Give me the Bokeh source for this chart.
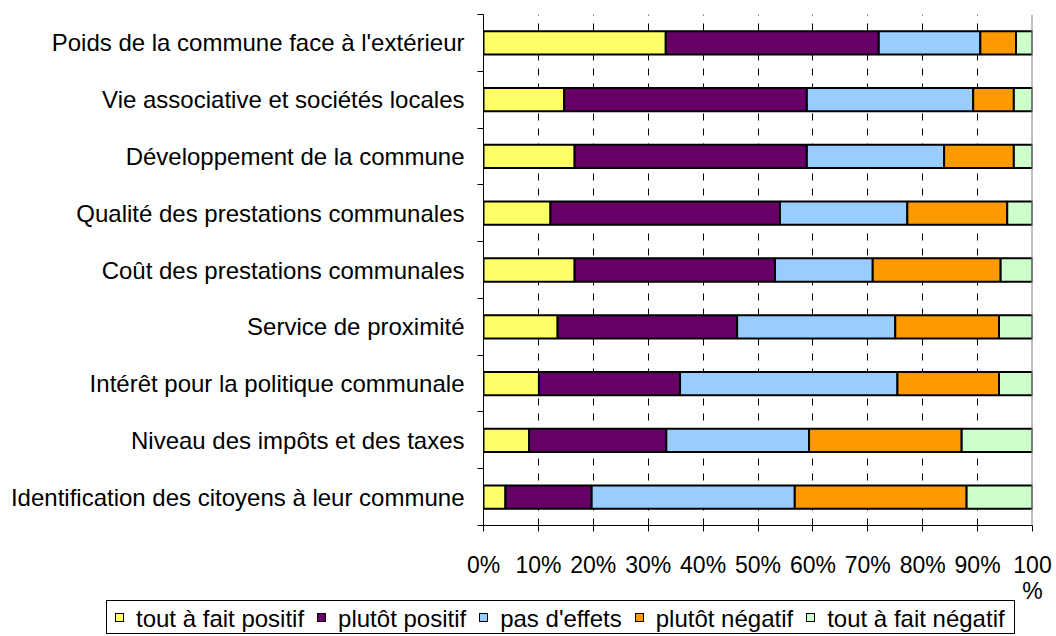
from bokeh.plotting import figure
from bokeh.layouts import column
from bokeh.models import Range1d, FixedTicker, Span, ColumnDataSource, Div
from bokeh.embed import file_html
from bokeh.resources import INLINE

# Categories, top to bottom as displayed
categories = [
    "Poids de la commune face à l'extérieur",
    "Vie associative et sociétés locales",
    "Développement de la commune",
    "Qualité des prestations communales",
    "Coût des prestations communales",
    "Service de proximité",
    "Intérêt pour la politique communale",
    "Niveau des impôts et des taxes",
    "Identification des citoyens à leur commune",
]

series_names = ["tout à fait positif", "plutôt positif", "pas d'effets",
                "plutôt négatif", "tout à fait négatif"]

tout_a_fait_positif = [33.2, 14.7, 16.6, 12.2, 16.6, 13.5, 10.1, 8.3, 4.0]
plutot_positif = [38.8, 44.2, 42.3, 41.8, 36.5, 32.7, 25.7, 25.0, 15.7]
pas_d_effets = [18.5, 30.3, 25.0, 23.2, 17.8, 28.8, 39.6, 26.0, 37.0]
plutot_negatif = [6.5, 7.4, 12.7, 18.2, 23.3, 18.9, 18.5, 27.8, 31.3]
tout_a_fait_negatif = [3.0, 3.4, 3.4, 4.6, 5.8, 6.1, 6.1, 12.9, 12.0]

colors = ["#FFFF66", "#660066", "#99CCFF", "#FF9900", "#CCFFCC"]

x_ticks = [0, 10, 20, 30, 40, 50, 60, 70, 80, 90, 100]
x_tick_labels = ["0%", "10%", "20%", "30%", "40%", "50%", "60%", "70%",
                 "80%", "90%", "100\n%"]

FONT = "Liberation Sans"

n = len(categories)
ypos = [n - 1 - i + 0.5 for i in range(n)]
keys = ["s0", "s1", "s2", "s3", "s4"]
series = [tout_a_fait_positif, plutot_positif, pas_d_effets, plutot_negatif, tout_a_fait_negatif]
data = {"y": ypos}
for k, s in zip(keys, series):
    data[k] = s
source = ColumnDataSource(data)

p = figure(width=1056, height=606, x_range=Range1d(0, 100), y_range=Range1d(0, n),
           output_backend="svg", toolbar_location=None,
           min_border_left=483, min_border_right=24, min_border_top=14, min_border_bottom=80)
p.outline_line_color = None
p.background_fill_color = "white"
p.border_fill_color = "white"

renderers = p.hbar_stack(keys, y="y", height=0.41, fill_color=colors,
                         line_color="black", line_width=2, source=source)

# x axis
p.xaxis.ticker = FixedTicker(ticks=x_ticks)
p.xaxis.major_label_overrides = {t: l for t, l in zip(x_ticks, x_tick_labels)}
p.xaxis.major_label_text_font = FONT
p.xaxis.major_label_text_font_size = "23px"
p.xaxis.major_label_text_color = "black"
p.xaxis.major_label_text_line_height = 1.0
p.xaxis.major_tick_in = 0
p.xaxis.major_tick_out = 6
p.xaxis.minor_tick_line_color = None
p.xaxis.major_label_standoff = 20
p.xaxis.axis_line_color = "black"
p.xaxis.major_tick_line_color = "black"

# y axis
p.yaxis.ticker = FixedTicker(ticks=ypos, minor_ticks=list(range(n + 1)))
p.yaxis.major_label_overrides = {y: c for y, c in zip(ypos, categories)}
p.yaxis.major_label_text_font = FONT
p.yaxis.major_label_text_font_size = "24px"
p.yaxis.major_label_text_color = "black"
p.yaxis.major_tick_in = 0
p.yaxis.major_tick_out = 0
p.yaxis.minor_tick_in = 0
p.yaxis.minor_tick_out = 6
p.yaxis.minor_tick_line_color = "black"
p.yaxis.major_label_standoff = 13
p.yaxis.axis_line_color = "black"

# grid
p.ygrid.grid_line_color = None
p.xgrid.ticker = FixedTicker(ticks=x_ticks[1:-1])
p.xgrid.grid_line_color = "black"
p.xgrid.grid_line_dash = "7 8"
p.xgrid.grid_line_width = 1

p.add_layout(Span(location=100, dimension="height", line_color="#808080", line_width=2))

# Legend strip as HTML (real text), below the plot
items_html = ""
for i, (nm, c) in enumerate(zip(series_names, colors)):
    gap = 9 if i == len(series_names) - 1 else 13
    items_html += ('<span style="display:inline-block;width:9px;height:9px;border:1px solid #000;'
                   'background:%s;margin-right:12px;vertical-align:middle;position:relative;top:-1px"></span>'
                   '<span style="margin-right:%dpx;vertical-align:middle">%s</span>') % (c, gap, nm)
legend_html = ('<div style="margin-left:106px;margin-top:-6px;display:inline-block;height:34px;box-sizing:border-box;'
               'border:1px solid #000;padding:0 0 0 8px;font-family:\'Liberation Sans\';font-size:24px;'
               'line-height:32px;white-space:nowrap;color:#000;background:#fff;position:relative;z-index:5">%s</div>') % items_html
leg = Div(text=legend_html, width=1056, height=30, margin=(0, 0, 0, 0))

page = column(p, leg, spacing=0)
open("out.html", "w").write(file_html(page, INLINE))
